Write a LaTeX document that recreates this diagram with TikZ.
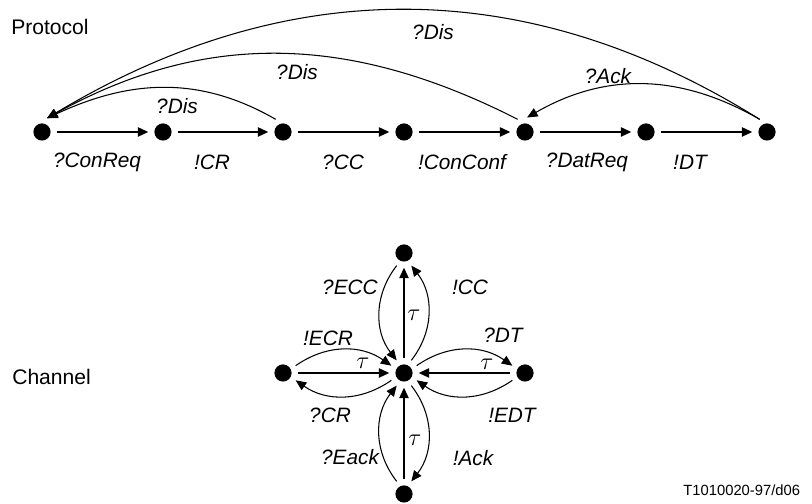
\documentclass[tikz,border=0pt]{standalone}
\usepackage{fontspec}
\setmainfont{Liberation Sans}
\usetikzlibrary{arrows.meta}
\begin{document}
\begin{tikzpicture}[x=0.025cm,y=0.025cm,
    st/.style={circle,fill=black,inner sep=0pt,minimum size=0.43cm,outer sep=0.15cm},
    lab/.style={font=\fontsize{14.8}{17}\selectfont\itshape},
    txt/.style={font=\fontsize{15}{18}\selectfont,inner sep=0pt},
    tau/.style={font=\fontsize{17}{20}\selectfont},
    trans/.style={->,line width=1.4pt},
    back/.style={->,line width=0.75pt},
    >={Triangle[length=7.5pt,width=6.5pt]}]
    \useasboundingbox (0,0) rectangle (812,504);
    % protocol
    \node (q0) at (11,477) [txt,anchor=west]{Protocol};
    \node[st] (p0) at (42,372) {};
    \node[st] (p1) at (163,372) {};
    \node[st] (p2) at (283,372) {};
    \node[st] (p3) at (404,372) {};
    \node[st] (p4) at (525,372) {};
    \node[st] (p5) at (646,372) {};
    \node[st] (p6) at (767,372) {};
    \draw[trans] (p0) -- (p1);
    \draw[trans] (p1) -- (p2);
    \draw[trans] (p2) -- (p3);
    \draw[trans] (p3) -- (p4);
    \draw[trans] (p4) -- (p5);
    \draw[trans] (p5) -- (p6);
    \node (q1) at (97,342) [lab]{?ConReq};
    \node (q2) at (212,342) [lab]{!CR};
    \node (q3) at (343,342) [lab]{?CC};
    \node (q4) at (462,342) [lab]{!ConConf};
    \node (q5) at (587,342) [lab]{?DatReq};
    \node (q6) at (690,342) [lab]{!DT};
    \draw[back] (p2.120) to[out=150,in=25] (p0.70);
    \draw[back] (p4.120) to[out=153,in=29] (p0.70);
    \draw[back] (p6.120) to[out=148,in=31] (p0.70);
    \draw[back] (p6.120) to[out=150,in=30] (p4.82);
    \node (q7) at (177,398) [lab]{?Dis};
    \node (q8) at (297,432) [lab]{?Dis};
    \node (q9) at (433,472) [lab]{?Dis};
    \node (q10) at (608,428) [lab]{?Ack};
    % channel
    \node (q11) at (12,127) [txt,anchor=west]{Channel};
    \node[st] (c0) at (404,131) {};
    \node[st] (cn) at (404,251) {};
    \node[st] (cs) at (404,10) {};
    \node[st] (cw) at (283,131) {};
    \node[st] (ce) at (525,131) {};
    \draw[trans] (cw) -- (c0);
    \draw[trans] (ce) -- (c0);
    \draw[trans] (c0) -- (cn);
    \draw[trans] (cs) -- (c0);
    \node (q12) at (363,141) [tau]{$\tau$};
    \node (q13) at (487,140) [tau]{$\tau$};
    \node (q14) at (414,189) [tau]{$\tau$};
    \node (q15) at (415,64) [tau]{$\tau$};
    \draw[back] (cn.240) to[bend right=38] (c0.120);
    \draw[back] (c0.60) to[bend right=38] (cn.300);
    \draw[back] (cw.30) to[bend left=35] (c0.150);
    \draw[back] (c0.210) to[bend left=35] (cw.330);
    \draw[back] (c0.30) to[bend left=35] (ce.150);
    \draw[back] (ce.210) to[bend left=35] (c0.330);
    \draw[back] (cs.120) to[bend left=38] (c0.240);
    \draw[back] (c0.300) to[bend left=38] (cs.60);
    \node (q16) at (350,217) [lab]{?ECC};
    \node (q17) at (470,217) [lab]{!CC};
    \node (q18) at (328,166) [lab]{!ECR};
    \node (q19) at (503,169) [lab]{?DT};
    \node (q20) at (330,89) [lab]{?CR};
    \node (q21) at (512,89) [lab]{!EDT};
    \node (q22) at (350,47) [lab]{?Eack};
    \node (q23) at (473,46) [lab]{!Ack};
    \node (q24) at (805,14) [anchor=east,font=\fontsize{10.5}{12}\selectfont]{T1010020-97/d06};
\end{tikzpicture}
\end{document}
